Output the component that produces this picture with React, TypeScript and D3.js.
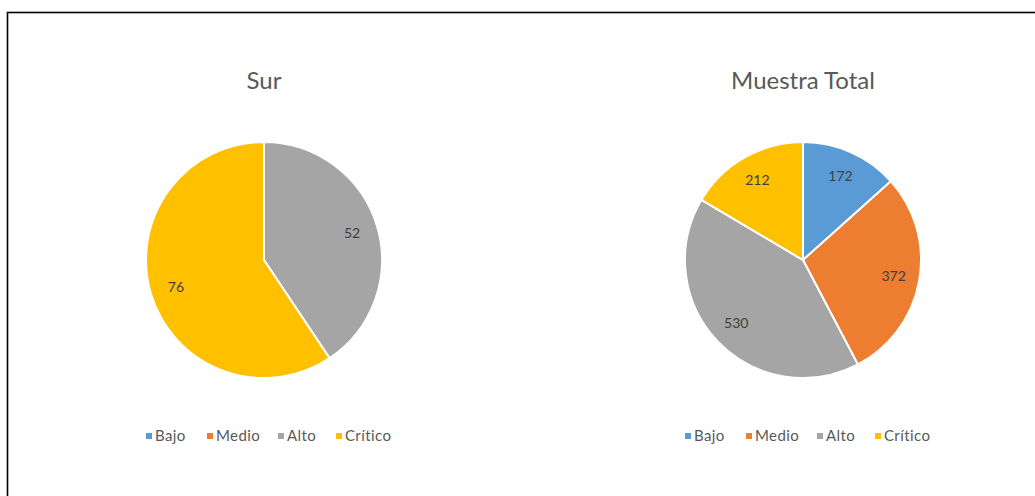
import React from "react";
import * as d3 from "d3";

// categories and colours (Excel office palette)
const categories = ["Bajo", "Medio", "Alto", "Crítico"];
const colors = ["#5B9BD5", "#ED7D31", "#A5A5A5", "#FFC000"];

// values per chart
const surValues = [0, 0, 52, 76];
const totalValues = [172, 372, 530, 212];

const charts = [
  { title: "Sur", values: surValues },
  { title: "Muestra Total", values: totalValues },
];

const W = 1035;
const H = 496;
const FONT = "Lato, 'Open Sans', sans-serif";

const PieChart = ({ title, values, cx }: { title: string; values: number[]; cx: number }) => {
  const r = 118;
  const cy = 260;
  const pie = d3.pie<number>().sort(null).value((d) => d);
  const arcs = pie(values);
  const arc = d3.arc<d3.PieArcDatum<number>>().innerRadius(0).outerRadius(r);
  const labelArc = d3.arc<d3.PieArcDatum<number>>().innerRadius(r * 0.78).outerRadius(r * 0.78);

  // legend item offsets, left to right
  const legendOffsets = [0, 61, 132, 190];

  return (
    <g>
      <text x={cx} y={89} textAnchor="middle" fontSize={24} fill="#595959" fontFamily={FONT}>
        {title}
      </text>
      <g transform={`translate(${cx},${cy})`}>
        {arcs.map((a, i) =>
          a.value > 0 ? (
            <path key={i} d={arc(a) || ""} fill={colors[i]} stroke="#fff" strokeWidth={2} />
          ) : null
        )}
        {arcs.map((a, i) => {
          if (a.value <= 0) return null;
          const [x, y] = labelArc.centroid(a);
          return (
            <text key={i} x={x} y={y} dy="0.35em" textAnchor="middle" fontSize={14} fill="#404040" fontFamily={FONT}>
              {a.value}
            </text>
          );
        })}
      </g>
      <g transform={`translate(${cx - 118},436)`}>
        {categories.map((c, i) => (
          <g key={c} transform={`translate(${legendOffsets[i]},0)`}>
            <rect x={0} y={-3} width={6} height={6} fill={colors[i]} />
            <text x={9} y={0} dy="0.35em" fontSize={15} letterSpacing={0.4} fill="#595959" fontFamily={FONT}>
              {c}
            </text>
          </g>
        ))}
      </g>
    </g>
  );
};

export default function App() {
  return (
    <div style={{ position: "absolute", left: 0, top: 0 }}>
      <svg width={W} height={H} style={{ display: "block", background: "#fff" }}>
        <rect x={7.5} y={12.5} width={W + 20} height={H + 20} fill="none" stroke="#000" strokeWidth={1.6} />
        <PieChart title={charts[0].title} values={charts[0].values} cx={264} />
        <PieChart title={charts[1].title} values={charts[1].values} cx={803} />
      </svg>
    </div>
  );
}
